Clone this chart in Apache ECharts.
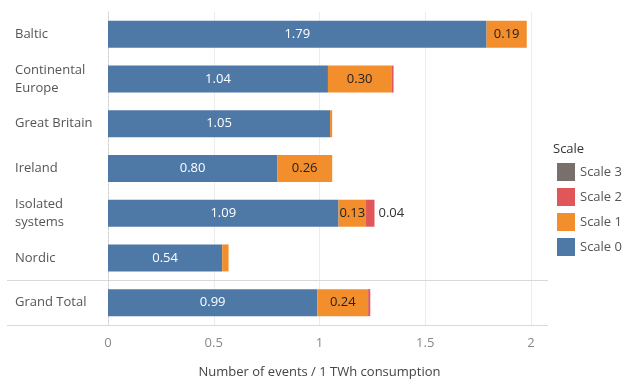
<!DOCTYPE html>
<html>
<head>
<meta charset="utf-8">
<script src="https://cdn.jsdelivr.net/npm/echarts@6/dist/echarts.min.js"></script>
<style>
  html, body { margin: 0; padding: 0; background: #fff; }
  #chart { width: 623px; height: 380px; }
</style>
</head>
<body>
<div id="chart"></div>
<script>
// Events per TWh of consumption, split by severity scale, per synchronous area
const categories = ['Baltic', 'Continental\nEurope', 'Great Britain', 'Ireland', 'Isolated\nsystems', 'Nordic', 'Grand Total'];
const scale0 = [1.79, 1.04, 1.05, 0.80, 1.09, 0.54, 0.99];
const scale1 = [0.19, 0.30, 0.01, 0.26, 0.13, 0.03, 0.24];
const scale2 = [0.00, 0.01, 0.00, 0.00, 0.04, 0.00, 0.01];
const scale3 = [0.00, 0.00, 0.00, 0.00, 0.00, 0.00, 0.00];
const xTicks = [0, 0.5, 1, 1.5, 2];
const legendOrder = ['Scale 3', 'Scale 2', 'Scale 1', 'Scale 0'];

const FONT = '"Open Sans", "Noto Sans", sans-serif';
const COLORS = { s0: '#4e79a7', s1: '#f28e2b', s2: '#e15759', s3: '#79706e' };

const chart = echarts.init(document.getElementById('chart'), null, { renderer: 'canvas' });

function seg(name, data, color, labelCfg) {
  return {
    name: name,
    type: 'bar',
    stack: 'total',
    data: data,
    barWidth: 27,
    itemStyle: { color: color },
    emphasis: { disabled: true },
    label: labelCfg,
    animation: false
  };
}

const option = {
  animation: false,
  textStyle: { fontFamily: FONT },
  grid: { left: 108, right: 92, top: 12, bottom: 55, containLabel: false, outerBoundsMode: 'none' },
  title: {
    text: 'Scale',
    left: 553, top: 143,
    padding: 0,
    textStyle: { fontFamily: FONT, fontSize: 13, fontWeight: 'normal', color: '#333' }
  },
  legend: {
    orient: 'vertical',
    left: 557, top: 163,
    padding: 0,
    data: legendOrder,
    itemWidth: 18, itemHeight: 18, itemGap: 7,
    icon: 'rect',
    selectedMode: false,
    textStyle: { fontFamily: FONT, fontSize: 13, color: '#555' }
  },
  xAxis: {
    type: 'value',
    min: xTicks[0],
    max: xTicks[xTicks.length - 1],
    interval: xTicks[1] - xTicks[0],
    name: 'Number of events / 1 TWh consumption',
    nameLocation: 'middle',
    nameGap: 41,
    nameTextStyle: { fontFamily: FONT, fontSize: 13, color: '#444' },
    axisLine: { show: false },
    axisTick: { show: false },
    axisLabel: {
      fontFamily: FONT, fontSize: 13, color: '#888', margin: 12,
      formatter: v => String(v)
    },
    splitLine: { show: true, lineStyle: { color: '#ececec', width: 1 } }
  },
  yAxis: {
    type: 'category',
    inverse: true,
    data: categories,
    axisLine: { show: true, lineStyle: { color: '#d0d0d0', type: [2, 2], width: 1 } },
    axisTick: { show: false },
    axisLabel: {
      fontFamily: FONT, fontSize: 13, color: '#555',
      align: 'left', margin: 93, lineHeight: 18
    },
    splitLine: { show: false }
  },
  series: [
    seg('Scale 0', scale0, COLORS.s0, {
      show: true, position: 'inside', color: '#fff',
      fontFamily: FONT, fontSize: 13,
      formatter: p => p.value.toFixed(2)
    }),
    seg('Scale 1', scale1, COLORS.s1, {
      show: true, position: 'inside', color: '#222',
      fontFamily: FONT, fontSize: 13,
      formatter: p => (p.value >= 0.1 ? p.value.toFixed(2) : '')
    }),
    seg('Scale 2', scale2, COLORS.s2, {
      show: true, position: 'right', distance: 4, color: '#333',
      fontFamily: FONT, fontSize: 13,
      formatter: p => (p.value >= 0.03 ? p.value.toFixed(2) : '')
    }),
    seg('Scale 3', scale3, COLORS.s3, { show: false })
  ]
};

chart.setOption(option);

// Row separators above the total row and under the last row, spanning label column and plot
function drawSeparators() {
  const n = categories.length;
  const yTop = chart.convertToPixel({ yAxisIndex: 0 }, categories[n - 2]);
  const yTot = chart.convertToPixel({ yAxisIndex: 0 }, categories[n - 1]);
  const step = yTot - yTop;
  const xEnd = chart.convertToPixel({ xAxisIndex: 0 }, xTicks[xTicks.length - 1]) + 17;
  const x0 = 7;
  const ys = [Math.round(yTot - step / 2) + 0.5, Math.round(yTot + step / 2) + 0.5];
  chart.setOption({
    graphic: ys.map((y, i) => ({
      type: 'line',
      id: 'sep' + i,
      z: 0,
      silent: true,
      shape: { x1: x0, y1: y, x2: xEnd, y2: y },
      style: { stroke: '#d9d9d9', lineWidth: 1 }
    }))
  });
}
drawSeparators();
</script>
</body>
</html>
